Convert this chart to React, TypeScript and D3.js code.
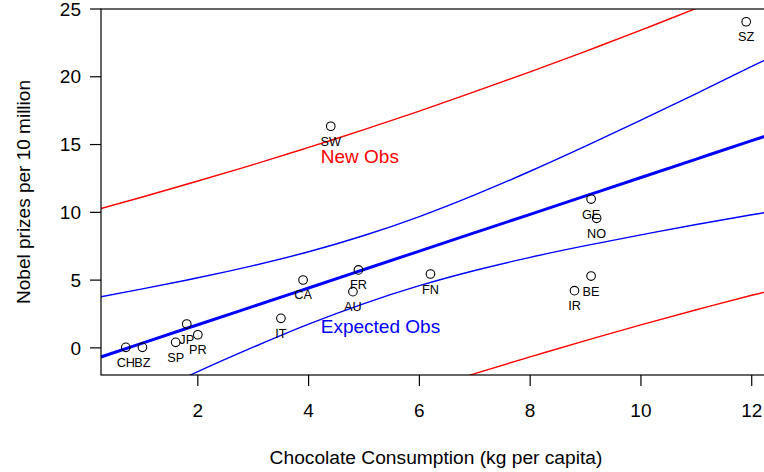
import React from "react";
import * as d3 from "d3";

// Countries: chocolate consumption (kg per capita) vs Nobel prizes per 10 million
const countries = ["CH", "BZ", "SP", "JP", "PR", "IT", "CA", "FR", "AU", "FN", "SW", "GE", "NO", "BE", "IR", "SZ"];
const chocolate = [0.7, 1.0, 1.6, 1.8, 2.0, 3.5, 3.9, 4.9, 4.8, 6.2, 4.4, 9.1, 9.2, 9.1, 8.8, 11.9];
const nobel = [0.04, 0.04, 0.41, 1.76, 0.97, 2.18, 5.01, 5.75, 4.15, 5.45, 16.35, 10.98, 9.56, 5.3, 4.22, 24.06];

// Fitted line with confidence ("Expected Obs") and prediction ("New Obs") bands
const bandX = [0.25, 1, 2, 3, 4, 5, 6, 7, 8, 9, 10, 11, 12, 12.35];
const fitY = [-0.67, 0.35, 1.71, 3.06, 4.42, 5.78, 7.14, 8.5, 9.85, 11.21, 12.57, 13.93, 15.29, 15.76];
const confUpper = [3.77, 4.35, 5.17, 6.07, 7.09, 8.29, 9.69, 11.29, 13.03, 14.88, 16.8, 18.76, 20.76, 21.46];
const confLower = [-5.11, -3.65, -1.75, 0.05, 1.75, 3.27, 4.59, 5.71, 6.68, 7.54, 8.34, 9.1, 9.82, 10.06];
const predUpper = [10.28, 11.13, 12.31, 13.52, 14.79, 16.1, 17.47, 18.9, 20.36, 21.88, 23.44, 25.05, 26.7, 27.28];
const predLower = [-11.62, -10.43, -8.89, -7.4, -5.95, -4.54, -3.19, -1.9, -0.66, 0.54, 1.7, 2.81, 3.88, 4.24];

const xTicks = [2, 4, 6, 8, 10, 12];
const yTicks = [0, 5, 10, 15, 20, 25];

const W = 764;
const H = 472;
const left = 101;
const right = 771;
const top = 9;
const bottom = 375;
const font = "'Liberation Sans', Arial, Helvetica, sans-serif";

export default function App() {
  const x = d3.scaleLinear().domain([0.252, 12.348]).range([left, right]);
  const y = d3.scaleLinear().domain([-2, 25]).range([bottom, top]);

  const line = (vals: number[]) =>
    d3
      .line<number>()
      .x((_, i) => x(bandX[i]))
      .y((v) => y(v))
      .curve(d3.curveNatural)(vals) || "";

  return (
    <div style={{ position: "fixed", left: 0, top: 0, background: "#fff" }}>
      <svg width={W} height={H} viewBox={`0 0 ${W} ${H}`} style={{ display: "block" }} fontFamily={font}>
        <rect x={0} y={0} width={W} height={H} fill="#fff" />
        <defs>
          <clipPath id="plotClip">
            <rect x={left} y={top} width={right - left} height={bottom - top} />
          </clipPath>
        </defs>

        <g clipPath="url(#plotClip)" fill="none">
          <path d={line(predUpper)} stroke="#ff0000" strokeWidth={1.4} />
          <path d={line(predLower)} stroke="#ff0000" strokeWidth={1.4} />
          <path d={line(confUpper)} stroke="#0000ff" strokeWidth={1.4} />
          <path d={line(confLower)} stroke="#0000ff" strokeWidth={1.4} />
          <path d={line(fitY)} stroke="#0000ff" strokeWidth={3} />
        </g>

        {/* points */}
        {chocolate.map((cx, i) => (
          <circle key={"p" + i} cx={x(cx)} cy={y(nobel[i])} r={4.3} fill="none" stroke="#000" strokeWidth={1.1} />
        ))}
        {chocolate.map((cx, i) => (
          <text key={"l" + i} x={x(cx)} y={y(nobel[i]) + 19.5} textAnchor="middle" fontSize={12.7} fill="#000">
            {countries[i]}
          </text>
        ))}

        <text x={x(4.22)} y={y(13.66)} fontSize={19} fill="#ff0000">New Obs</text>
        <text x={x(4.22)} y={y(1.12)} fontSize={19} fill="#0000ff">Expected Obs</text>

        {/* frame */}
        <rect x={left} y={top} width={right - left} height={bottom - top} fill="none" stroke="#000" strokeWidth={1.2} />

        {/* x axis */}
        {xTicks.map((t) => (
          <g key={"xt" + t}>
            <line x1={x(t)} x2={x(t)} y1={bottom} y2={bottom + 11} stroke="#000" strokeWidth={1.2} />
            <text x={x(t)} y={bottom + 42} textAnchor="middle" fontSize={19} fill="#000">{t}</text>
          </g>
        ))}
        {/* y axis */}
        {yTicks.map((t) => (
          <g key={"yt" + t}>
            <line x1={left - 11} x2={left} y1={y(t)} y2={y(t)} stroke="#000" strokeWidth={1.2} />
            <text x={81} y={y(t)} dy="0.35em" textAnchor="end" fontSize={19} fill="#000">{t}</text>
          </g>
        ))}

        <text x={(left + right) / 2} y={464} textAnchor="middle" fontSize={19.2} fill="#000">
          Chocolate Consumption (kg per capita)
        </text>
        <text
          transform={`translate(30, ${(top + bottom) / 2}) rotate(-90)`}
          textAnchor="middle"
          fontSize={19}
          fill="#000"
        >
          Nobel prizes per 10 million
        </text>
      </svg>
    </div>
  );
}
